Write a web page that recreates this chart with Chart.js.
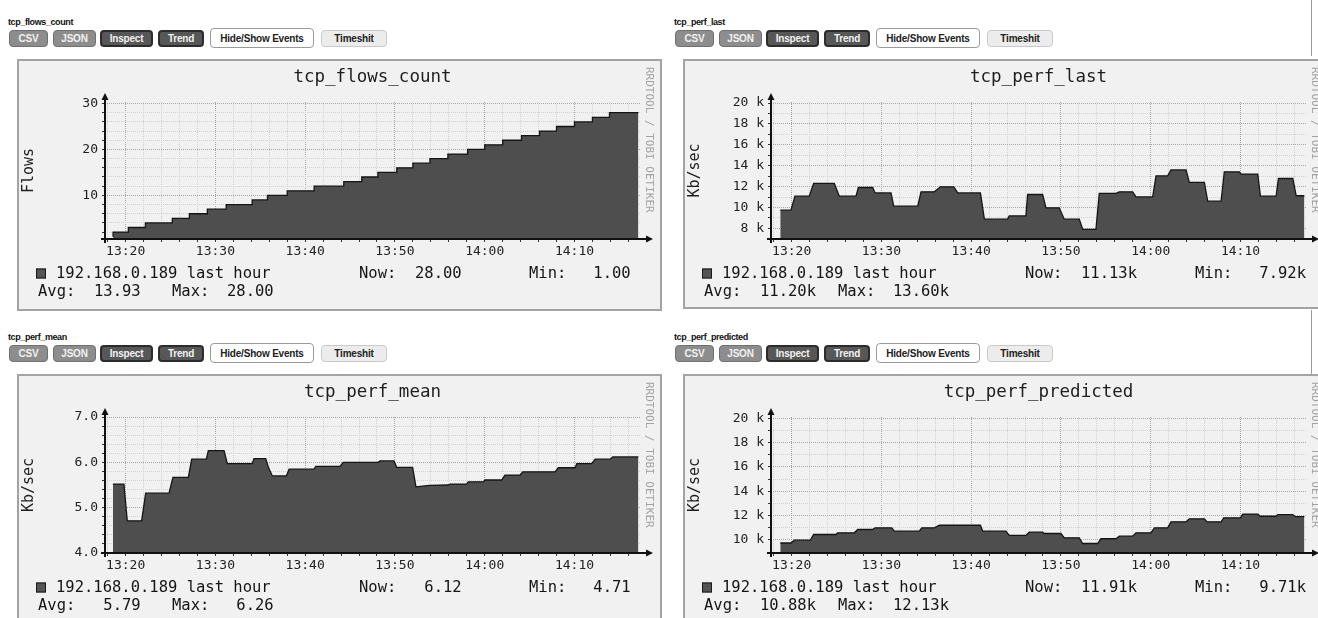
<!DOCTYPE html>
<html>
<head>
<meta charset="utf-8">
<title>tcp graphs</title>
<script src="https://cdn.jsdelivr.net/npm/chart.js"></script>
<style>
html,body{margin:0;padding:0;background:#fff;}
body{position:relative;width:1318px;height:618px;overflow:hidden;font-family:"Liberation Sans",Arial,sans-serif;}
.hdr{position:absolute;font-size:9px;font-weight:bold;color:#111;letter-spacing:-0.4px;line-height:10px;white-space:nowrap;}
.btn{position:absolute;box-sizing:border-box;height:17px;font-size:10px;font-weight:bold;display:flex;align-items:center;justify-content:center;border-radius:4px;white-space:nowrap;letter-spacing:-0.2px;}
.b1{background:#8d8d8d;color:#f2f2f2;border:1px solid #707070;}
.b2{background:#575757;color:#f2f2f2;border:2px solid #2c2c2c;}
.b3{background:#fff;color:#222;border:1.5px solid #9a9a9a;}
.b4{background:#ececec;color:#222;border:1.5px solid #c9c9c9;}
.box{position:absolute;box-sizing:border-box;background:#f1f1f1;border:2px solid #a3a3a3;}
canvas{position:absolute;}
.vline{position:absolute;width:1px;background:#9a9a9a;}
</style>
</head>
<body>
<div class="vline" style="left:1311px;top:0;height:56px"></div>
<div class="vline" style="left:1311px;top:310px;height:64px"></div>
<div id="root"></div>
<script>
// ---------- data ----------
const xTickMinutes = [20, 30, 40, 50, 60, 70];           // minutes after 13:00
const xTickLabels  = ['13:20', '13:30', '13:40', '13:50', '14:00', '14:10'];
const xGridMinutes = [18,20,22,24,26,28,30,32,34,36,38,40,42,44,46,48,50,52,54,56,58,60,62,64,66,68,70,72,74,76];

const chartTitles = ['tcp_flows_count', 'tcp_perf_last', 'tcp_perf_mean', 'tcp_perf_predicted'];
const yTitles = ['Flows', 'Kb/sec', 'Kb/sec', 'Kb/sec'];
const buttonLabels = ['CSV', 'JSON', 'Inspect', 'Trend', 'Hide/Show Events', 'Timeshit'];
const legendName = '192.168.0.189 last hour';

// tcp_flows_count (step start minute, flows)
const flowsMinutes = [18.6,20.3,22.2,25.2,27.1,29.1,31.2,34.1,35.8,38.0,41.0,44.3,46.3,48.1,50.2,52.0,53.9,55.9,58.1,60.0,62.0,64.1,66.1,68.0,70.0,72.0,73.9,76.1,77.12];
const flowsValues  = [1,2,3,4,5,6,7,8,9,10,11,12,13,14,15,16,17,18,19,20,21,22,23,24,25,26,27,28,28];

// tcp_perf_last (k)
const lastMinutes = [18.73,19.92,20.37,21.96,22.45,24.75,25.31,27.17,27.43,29.03,29.29,31.07,31.37,34.05,34.41,35.9,36.57,38.06,38.5,41.03,41.47,44.06,44.24,46.1,46.29,47.96,48.33,49.81,50.37,52.04,52.42,53.9,54.27,56.13,56.5,57.99,58.36,60.22,60.59,61.89,62.26,63.94,64.3,65.98,66.35,67.84,68.2,69.88,70.07,71.93,72.22,73.97,74.23,75.83,76.2,77.12];
const lastValues  = [9.75,9.75,11.09,11.09,12.31,12.31,11.09,11.09,11.92,11.92,11.4,11.4,10.13,10.13,11.5,11.5,11.98,11.98,11.4,11.4,8.89,8.89,9.2,9.2,11.25,11.25,9.97,9.97,8.89,8.89,7.92,7.92,11.35,11.35,11.5,11.5,11.02,11.02,13.03,13.03,13.6,13.6,12.4,12.4,10.61,10.61,13.42,13.42,13.2,13.2,11.09,11.09,12.78,12.78,11.13,11.13];

// tcp_perf_mean
const meanMinutes = [18.58,19.81,20.18,21.78,22.23,24.83,25.27,26.98,27.36,28.99,29.21,30.96,31.33,34.11,34.3,35.61,35.9,36.34,37.9,38.21,40.99,41.18,43.87,44.24,48.14,48.33,49.89,50.19,51.97,52.34,53.82,55.94,56.13,57.99,58.17,59.84,60.03,61.89,62.26,63.94,64.24,67.84,68.2,70.07,70.26,71.93,72.3,73.97,74.27,77.12];
const meanValues  = [5.52,5.52,4.71,4.71,5.32,5.32,5.67,5.67,6.07,6.07,6.26,6.26,5.97,5.97,6.08,6.08,5.89,5.70,5.70,5.85,5.85,5.91,5.91,6.0,6.0,6.03,6.03,5.89,5.89,5.46,5.49,5.50,5.52,5.52,5.57,5.57,5.61,5.61,5.72,5.72,5.79,5.79,5.88,5.88,5.97,5.97,6.07,6.07,6.12,6.12];

// tcp_perf_predicted (k)
const predMinutes = [18.73,19.92,20.29,22.07,22.45,24.94,25.12,26.98,27.36,29.03,29.29,31.15,31.44,34.23,34.49,35.9,36.46,41.03,41.29,43.87,44.24,46.1,46.47,47.96,48.14,50,50.37,52.04,52.42,54.09,54.46,56.13,56.5,57.99,58.36,60.03,60.41,61.89,62.26,63.94,64.3,65.98,66.28,67.84,68.14,69.99,70.26,71.93,72.22,73.97,74.16,75.83,76.09,77.12];
const predValues  = [9.75,9.75,9.98,9.98,10.45,10.45,10.59,10.59,10.86,10.86,11.0,11.0,10.72,10.72,11.0,11.0,11.21,11.21,10.72,10.72,10.37,10.37,10.64,10.64,10.53,10.53,10.18,10.18,9.71,9.71,10.1,10.1,10.31,10.31,10.59,10.59,11.0,11.0,11.49,11.49,11.74,11.74,11.49,11.49,11.82,11.82,12.13,12.13,11.95,11.95,12.09,12.09,11.91,11.91];

// y grids and labels
const flowsYGrid = [2,4,6,8,10,12,14,16,18,20,22,24,26,28,30];
const flowsYLabelValues = [10, 20, 30];
const flowsYLabelText = ['10', '20', '30'];
const kYGrid = [7,8,9,10,11,12,13,14,15,16,17,18,19,20];
const kYLabelValues = [8, 10, 12, 14, 16, 18, 20];
const kYLabelText = ['8 k', '10 k', '12 k', '14 k', '16 k', '18 k', '20 k'];
const meanYGrid = [4.0,4.2,4.4,4.6,4.8,5.0,5.2,5.4,5.6,5.8,6.0,6.2,6.4,6.6,6.8,7.0];
const meanYLabelValues = [4, 5, 6, 7];
const meanYLabelText = ['4.0', '5.0', '6.0', '7.0'];

// legend figures
const legendNow = ['28.00 ', '11.13k', '6.12 ', '11.91k'];
const legendMin = ['1.00 ', '7.92k', '4.71 ', '9.71k'];
const legendAvg = ['13.93 ', '11.20k', '5.79 ', '10.88k'];
const legendMax = ['28.00 ', '13.60k', '6.26 ', '12.13k'];

// ---------- page furniture ----------
const MONO = '"DejaVu Sans Mono", monospace';
const panels = [
  {ox: 0,   oy: 0},
  {ox: 666, oy: 0},
  {ox: 0,   oy: 315},
  {ox: 666, oy: 315}
];
const btnCls = ['b1', 'b1', 'b2', 'b2', 'b3', 'b4'];
const btnX = [[9,48],[53,96],[100,153],[158,204],[210,314],[321,387]];
const root = document.getElementById('root');
panels.forEach((p, k) => {
  const h = document.createElement('div');
  h.className = 'hdr';
  h.style.left = (8 + p.ox) + 'px';
  h.style.top = (17 + p.oy) + 'px';
  h.textContent = chartTitles[k];
  root.appendChild(h);
  buttonLabels.forEach((t, i) => {
    const b = document.createElement('div');
    b.className = 'btn ' + btnCls[i];
    const tall = i === 4 ? 3 : 0;
    b.style.left = (btnX[i][0] + p.ox) + 'px';
    b.style.width = (btnX[i][1] - btnX[i][0]) + 'px';
    b.style.top = (30 + p.oy - (tall ? 2 : 0)) + 'px';
    b.style.height = (17 + tall) + 'px';
    b.textContent = t;
    root.appendChild(b);
  });
  const box = document.createElement('div');
  box.className = 'box';
  box.style.left = (17 + p.ox) + 'px';
  box.style.top = (59 + p.oy) + 'px';
  box.style.width = (k % 2 ? 700 : 645) + 'px';
  box.style.height = (k < 2 ? (k === 1 ? 250 : 252) : 320) + 'px';
  root.appendChild(box);
  const cv = document.createElement('canvas');
  cv.id = 'c' + k;
  cv.width = 644; cv.height = 250;
  cv.style.left = (17 + p.ox) + 'px';
  cv.style.top = (60 + p.oy) + 'px';
  root.appendChild(cv);
});

// ---------- decorations drawn relative to the chart area ----------
const rrdDecor = {
  id: 'rrdDecor',
  afterDatasetsDraw(chart) {
    const {ctx, chartArea: a} = chart;
    ctx.save();
    ctx.fillStyle = '#111';
    ctx.fillRect(a.left - 1, a.top - 3, 2, a.bottom - a.top + 7);
    ctx.fillRect(a.left - 4, a.bottom - 1, a.right - a.left + 11, 2);
    ctx.beginPath();
    ctx.moveTo(a.left, a.top - 9);
    ctx.lineTo(a.left - 3.5, a.top - 2);
    ctx.lineTo(a.left + 3.5, a.top - 2);
    ctx.closePath(); ctx.fill();
    ctx.beginPath();
    ctx.moveTo(a.right + 13, a.bottom);
    ctx.lineTo(a.right + 6, a.bottom - 3.5);
    ctx.lineTo(a.right + 6, a.bottom + 3.5);
    ctx.closePath(); ctx.fill();
    ctx.restore();
  },
  afterDraw(chart, args, o) {
    const {ctx, chartArea: a} = chart;
    const k = o.k;
    ctx.save();
    // watermark
    ctx.translate(a.right + 9, a.top - 35);
    ctx.rotate(Math.PI / 2);
    ctx.font = '11px ' + MONO;
    ctx.fillStyle = '#a2a2a2';
    ctx.textBaseline = 'middle';
    ctx.textAlign = 'left';
    ctx.fillText('RRDTOOL / TOBI OETIKER', 0, 0);
    ctx.restore();
    // legend
    ctx.save();
    const L = a.left, B = a.bottom;
    const y1 = B + 34.5, y2 = B + 52.5;
    ctx.fillStyle = '#555';
    ctx.fillRect(L - 69, y1 - 5, 10, 10);
    ctx.strokeStyle = '#1a1a1a';
    ctx.lineWidth = 1;
    ctx.strokeRect(L - 68.5, y1 - 4.5, 9, 9);
    ctx.font = '15.5px ' + MONO;
    ctx.fillStyle = '#151515';
    ctx.textBaseline = 'middle';
    ctx.textAlign = 'left';
    ctx.fillText(legendName, L - 49, y1);
    ctx.fillText('Now:', L + 254, y1);
    ctx.fillText('Min:', L + 424, y1);
    ctx.fillText('Avg:', L - 67, y2);
    ctx.fillText('Max:', L + 67, y2);
    ctx.textAlign = 'right';
    ctx.fillText(legendNow[k], L + 366, y1);
    ctx.fillText(legendMin[k], L + 535, y1);
    ctx.fillText(legendAvg[k], L + 45, y2);
    ctx.fillText(legendMax[k], L + 178, y2);
    ctx.restore();
  }
};

function labelFor(values, texts, v) {
  const i = values.findIndex(a => Math.abs(a - v) < 1e-6);
  return i < 0 ? '' : texts[i];
}

function makeChart(k, minutes, values, stepped, yMin, yMax, yGrid, yLabVals, yLabText, xh) {
  const pts = minutes.map((m, i) => ({x: m, y: values[i]}));
  const isMajorY = v => yLabVals.some(a => Math.abs(a - v) < 1e-6);
  const isMajorX = v => xTickMinutes.includes(v);
  return new Chart(document.getElementById('c' + k), {
    type: 'line',
    data: {datasets: [{
      data: pts, stepped: stepped, fill: 'start',
      backgroundColor: '#4e4e4e', borderColor: '#151515', borderWidth: 1.3,
      pointRadius: 0, tension: 0
    }]},
    options: {
      responsive: false, animation: false, devicePixelRatio: 1,
      layout: {padding: {left: 0, right: 21, top: 0, bottom: 0}},
      plugins: {
        legend: {display: false},
        tooltip: {enabled: false},
        title: {display: true, text: chartTitles[k], fullSize: false, color: '#1e1e1e',
          font: {family: MONO, size: 17.5, weight: 'normal', lineHeight: 1.2},
          padding: {top: 7, bottom: 14}},
        rrdDecor: {k: k}
      },
      scales: {
        x: {
          type: 'linear', min: 17.7, max: 77.3,
          afterFit(s) { s.height = xh; },
          afterBuildTicks(s) { s.ticks = xGridMinutes.map(v => ({value: v})); },
          grid: {color: c => (c.tick && isMajorX(c.tick.value)) ? '#a6a6a6' : '#d2d2d2',
                 lineWidth: 1, tickLength: 3, tickColor: '#333'},
          border: {display: false, dash: [1, 1]},
          ticks: {autoSkip: false, maxRotation: 0, padding: 2, color: '#222',
                  font: {family: MONO, size: 13},
                  callback: v => labelFor(xTickMinutes, xTickLabels, v)}
        },
        y: {
          type: 'linear', min: yMin, max: yMax,
          afterFit(s) { s.width = 88; },
          afterBuildTicks(s) { s.ticks = yGrid.map(v => ({value: v})); },
          title: {display: true, text: yTitles[k], color: '#1e1e1e',
                  font: {family: MONO, size: 15}, padding: {top: 3, bottom: 0}},
          grid: {color: c => (c.tick && isMajorY(c.tick.value)) ? '#a6a6a6' : '#d2d2d2',
                 lineWidth: 1, tickLength: 3, tickColor: '#333'},
          border: {display: false, dash: [1, 1]},
          ticks: {autoSkip: false, padding: 4, color: '#222',
                  font: {family: MONO, size: 13},
                  callback: v => labelFor(yLabVals, yLabText, v)}
        }
      }
    },
    plugins: [rrdDecor]
  });
}

makeChart(0, flowsMinutes, flowsValues, 'after', 0.5, 30.33, flowsYGrid, flowsYLabelValues, flowsYLabelText, 71);
makeChart(1, lastMinutes, lastValues, false, 6.99, 20.1, kYGrid, kYLabelValues, kYLabelText, 71);
makeChart(2, meanMinutes, meanValues, false, 4.0, 7.0, meanYGrid, meanYLabelValues, meanYLabelText, 72);
makeChart(3, predMinutes, predValues, false, 8.93, 20.1, kYGrid.filter(v => v >= 9), kYLabelValues.filter(v => v >= 10), kYLabelText.slice(1), 72);
</script>
</body>
</html>
